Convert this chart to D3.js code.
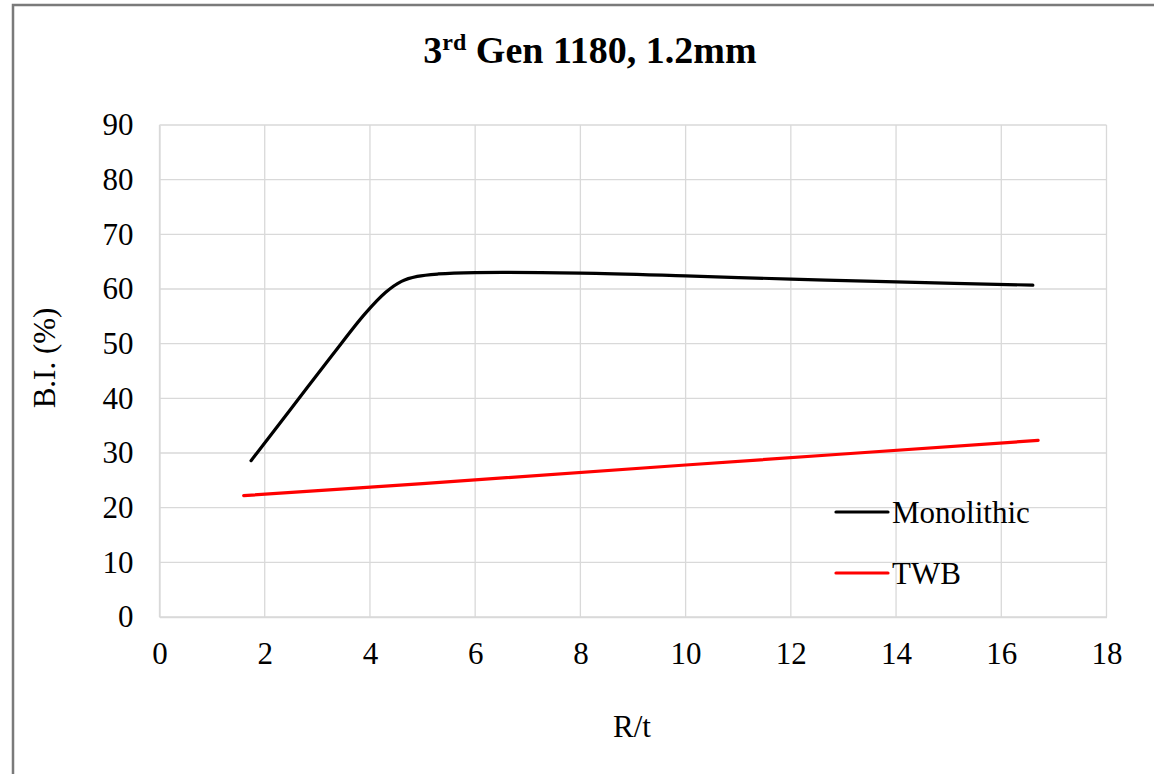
<!DOCTYPE html>
<html><head><meta charset="utf-8">
<script src="https://cdn.jsdelivr.net/npm/d3@7"></script>
<style>
html,body{margin:0;padding:0;background:#fff;}
svg{display:block;}
text{font-family:"Liberation Serif","Times New Roman",serif;fill:#000;}
</style></head>
<body><svg id="c" width="1154" height="774"></svg>
<script>
const monoX = [1.74, 2.5, 3.3, 3.9, 4.3, 4.6, 4.9, 5.3, 6.0, 8.0, 10.0, 12.0, 14.0, 16.6];
const monoY = [28.6, 38.1, 48.1, 55.4, 59.4, 61.4, 62.3, 62.75, 63.0, 62.9, 62.4, 61.8, 61.3, 60.7];
const twbX = [1.6, 5.0, 10.0, 16.7];
const twbY = [22.2, 24.4, 27.8, 32.3];
const xTicks = [0, 2, 4, 6, 8, 10, 12, 14, 16, 18];
const yTicks = [0, 10, 20, 30, 40, 50, 60, 70, 80, 90];
const seriesNames = ["Monolithic", "TWB"];
const seriesColors = ["#000000", "#ff0000"];

const svg = d3.select("#c");
const L = 159.5, R = 1106.5, T = 125, B = 617;
const x = d3.scaleLinear().domain([0, 18]).range([L, R]);
const y = d3.scaleLinear().domain([0, 90]).range([B, T]);

// outer border
svg.append("path").attr("d", `M13,774 V5 H1154`).attr("fill", "none")
  .attr("stroke", "#7a7a7a").attr("stroke-width", 2.5);

// gridlines
const g = svg.append("g");
g.selectAll(".gx").data(xTicks).enter().append("line")
  .attr("x1", d => x(d)).attr("x2", d => x(d)).attr("y1", T).attr("y2", B)
  .attr("stroke", "#d9d9d9").attr("stroke-width", 1.3);
g.selectAll(".gy").data(yTicks).enter().append("line")
  .attr("x1", L).attr("x2", R).attr("y1", d => y(d)).attr("y2", d => y(d))
  .attr("stroke", "#d9d9d9").attr("stroke-width", 1.3);

// axes via d3
const xAxis = d3.axisBottom(x).tickValues(xTicks).tickSize(0).tickPadding(25);
const yAxis = d3.axisLeft(y).tickValues(yTicks).tickSize(0).tickPadding(26);
const gx = svg.append("g").attr("transform", `translate(0,${B})`).call(xAxis);
const gy = svg.append("g").attr("transform", `translate(${L},0)`).call(yAxis);
[gx, gy].forEach(a => {
  a.select(".domain").attr("stroke", "#d9d9d9").attr("stroke-width", 1.3);
  a.selectAll("text").style("font-family", '"Liberation Serif", serif').style("font-size", "31px").attr("fill", "#000");
});
gx.selectAll("text").attr("dy", "0.71em");

// lines
const line = d3.line().x(d => x(d[0])).y(d => y(d[1])).curve(d3.curveCatmullRom.alpha(0.5));
const mono = monoX.map((v, i) => [v, monoY[i]]);
const twb = twbX.map((v, i) => [v, twbY[i]]);
svg.append("path").datum(twb).attr("d", line).attr("fill", "none")
  .attr("stroke", seriesColors[1]).attr("stroke-width", 3.2).attr("stroke-linecap", "round");
svg.append("path").datum(mono).attr("d", line).attr("fill", "none")
  .attr("stroke", seriesColors[0]).attr("stroke-width", 3.2).attr("stroke-linecap", "round");

// legend
const legY = [512, 573];
seriesNames.forEach((n, i) => {
  svg.append("line").attr("x1", 836).attr("x2", 888).attr("y1", legY[i]).attr("y2", legY[i])
    .attr("stroke", seriesColors[i]).attr("stroke-width", 3.2).attr("stroke-linecap", "round");
  svg.append("text").attr("x", 892).attr("y", legY[i]).attr("dy", "0.35em")
    .style("font-size", "31px").text(n);
});

// title
const title = svg.append("text").attr("x", 590).attr("y", 63).attr("text-anchor", "middle")
  .style("font-size", "38px").style("font-weight", "bold");
title.append("tspan").text("3");
title.append("tspan").attr("dy", -13).style("font-size", "24px").text("rd");
title.append("tspan").attr("dy", 13).text(" Gen 1180, 1.2mm");

// axis titles
svg.append("text").attr("x", 632).attr("y", 737).attr("text-anchor", "middle")
  .style("font-size", "31px").text("R/t");
svg.append("text").attr("transform", "translate(55,358) rotate(-90)").attr("text-anchor", "middle")
  .style("font-size", "31px").text("B.I. (%)");
</script></body></html>
